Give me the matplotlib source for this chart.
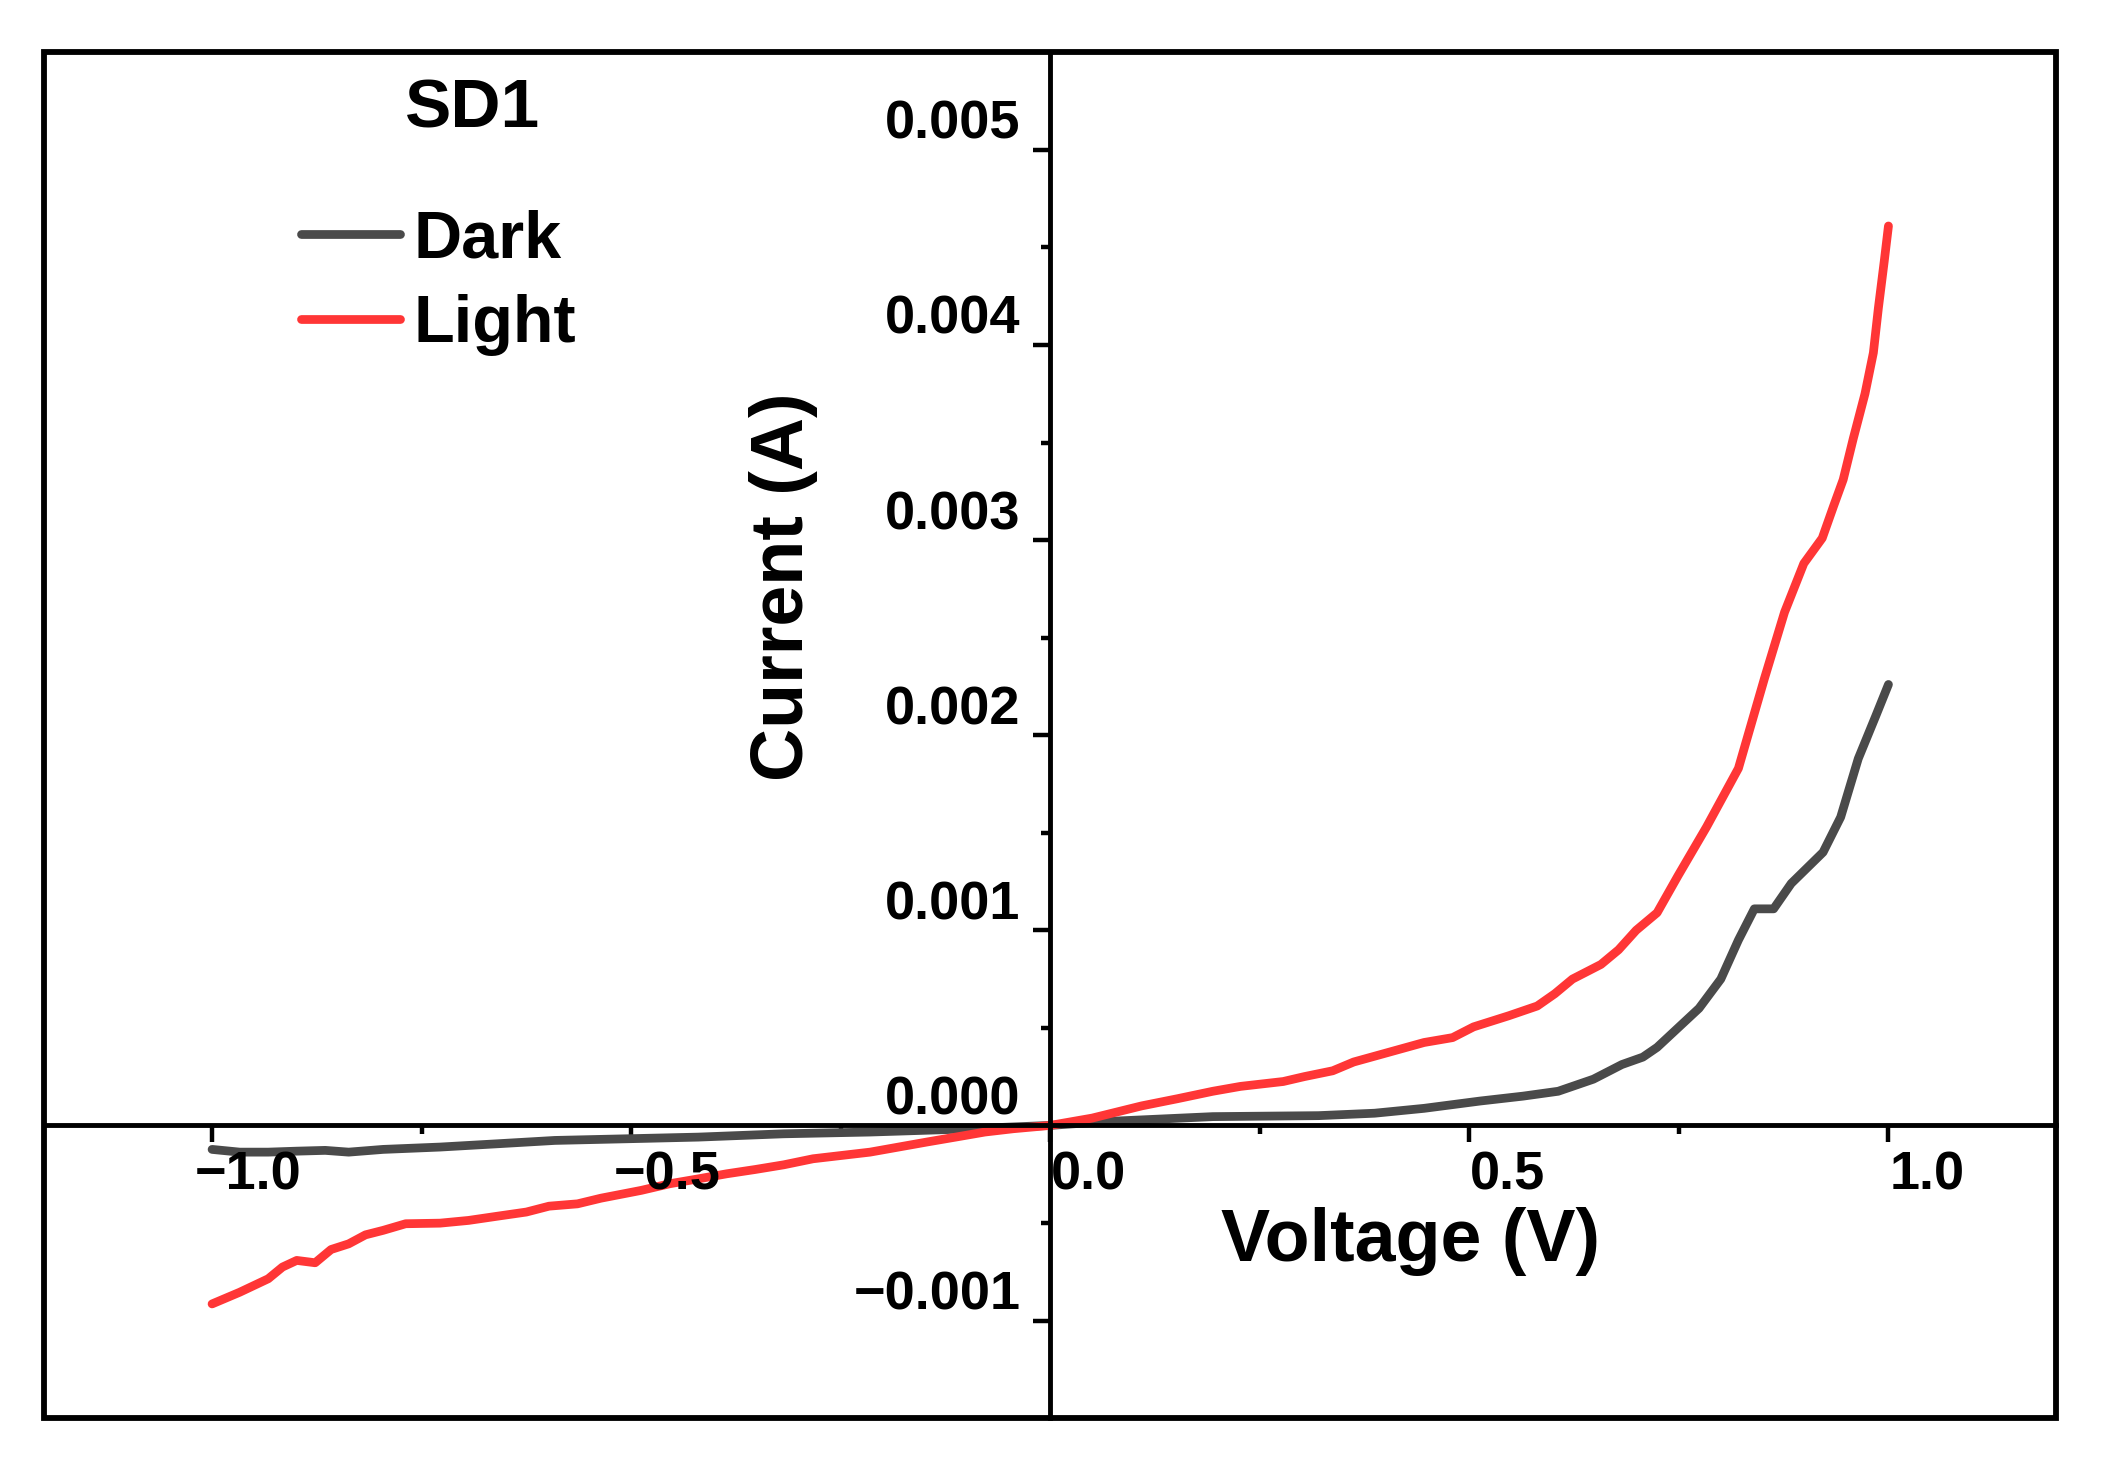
import matplotlib
matplotlib.use('Agg')
import matplotlib.pyplot as plt
from matplotlib.patches import Rectangle
from matplotlib.transforms import offset_copy

# ---------------- data ----------------
light_v = [-1.0, -0.967, -0.933, -0.916, -0.899, -0.877, -0.858, -0.837, -0.817, -0.796,
           -0.769, -0.728, -0.694, -0.659, -0.625, -0.598, -0.564, -0.536, -0.488, -0.454,
           -0.42, -0.386, -0.352, -0.318, -0.283, -0.249, -0.215, -0.181, -0.147, -0.113,
           -0.078, -0.044, 0.0,
           0.05, 0.109, 0.152, 0.194, 0.227, 0.278, 0.303, 0.337, 0.362, 0.404,
           0.446, 0.48, 0.505, 0.547, 0.581, 0.602, 0.623, 0.657, 0.678, 0.699,
           0.724, 0.749, 0.783, 0.821, 0.852, 0.876, 0.899, 0.921, 0.935, 0.946,
           0.958, 0.972, 0.982, 0.988, 0.995, 1.0]
light_i = [-0.000915, -0.000855, -0.000786, -0.000726, -0.000692, -0.000704, -0.000636, -0.000607,
           -0.000561, -0.000538, -0.000504, -0.000501, -0.000487, -0.000465, -0.000444, -0.000414,
           -0.000402, -0.000373, -0.000333, -0.000299, -0.000274, -0.000248, -0.000226, -0.000202,
           -0.000171, -0.000154, -0.000137, -0.000111, -0.000085, -0.00006, -0.000034, -0.000017, 0.0,
           0.0000375, 0.0001, 0.000137, 0.000175, 0.0002, 0.000225, 0.00025, 0.00028, 0.000325,
           0.000375, 0.000425, 0.00045, 0.000505, 0.000562, 0.000612, 0.000675, 0.00075, 0.000825,
           0.0009, 0.001, 0.00109, 0.00128, 0.00153, 0.00183, 0.00229, 0.00263, 0.00288, 0.00301,
           0.00318, 0.00331, 0.00352, 0.00375, 0.00396, 0.00419, 0.00443, 0.00461]

dark_v = [-1.0, -0.967, -0.933, -0.899, -0.865, -0.837, -0.796, -0.728, -0.659, -0.591,
          -0.5, -0.42, -0.318, -0.215, -0.113, 0.0,
          0.067, 0.194, 0.32, 0.387, 0.446, 0.513, 0.564, 0.606, 0.648, 0.682,
          0.707, 0.724, 0.749, 0.774, 0.8, 0.821, 0.84, 0.863, 0.884, 0.922,
          0.943, 0.964, 0.985, 1.0]
dark_i = [-0.000123, -0.000137, -0.000137, -0.000132, -0.000128, -0.000137, -0.000123, -0.000111,
          -0.000094, -0.000077, -0.000068, -0.00006, -0.000043, -0.000034, -0.00002, 0.0,
          0.00002, 0.000045, 0.00005, 0.0000625, 0.0000875, 0.000125, 0.00015, 0.000175,
          0.000237, 0.000312, 0.00035, 0.0004, 0.0005, 0.0006, 0.00075, 0.00095, 0.00111,
          0.00111, 0.00124, 0.0014, 0.00158, 0.00188, 0.0021, 0.00226]

x_major = [-1.0, -0.5, 0.0, 0.5, 1.0]
x_minor = [-0.75, -0.25, 0.25, 0.75]
x_labels = ['\u22121.0', '\u22120.5', '0.0', '0.5', '1.0']
y_major = [-0.001, 0.0, 0.001, 0.002, 0.003, 0.004, 0.005]
y_minor = [-0.0005, 0.0005, 0.0015, 0.0025, 0.0035, 0.0045]
y_labels = ['\u22120.001', '0.000', '0.001', '0.002', '0.003', '0.004', '0.005']

# ---------------- figure ----------------
plt.rcParams['font.family'] = ['Liberation Sans', 'DejaVu Sans']
plt.rcParams['font.weight'] = 'bold'

DPI = 100
fig = plt.figure(figsize=(21.06, 14.66), dpi=DPI)
ax = fig.add_axes([0.0211, 0.0327, 0.9552, 0.9316])

ax.plot(dark_v, dark_i, color='#4a4a4a', lw=6.3, solid_capstyle='round',
        solid_joinstyle='round', label='Dark', zorder=3)
ax.plot(light_v, light_i, color='#ff3636', lw=6.3, solid_capstyle='round',
        solid_joinstyle='round', label='Light', zorder=3)

ax.set_xlim(-1.2, 1.2)
ax.set_ylim(-0.0015, 0.0055)

ax.spines['left'].set_position('zero')
ax.spines['bottom'].set_position('zero')
ax.spines['top'].set_visible(False)
ax.spines['right'].set_visible(False)
for s in ['left', 'bottom']:
    ax.spines[s].set_linewidth(3.5)
    ax.spines[s].set_zorder(4)

ax.add_patch(Rectangle((0, 0), 1, 1, transform=ax.transAxes, fill=False,
                       lw=4.2, edgecolor='black', clip_on=False, zorder=5))

ax.set_xticks(x_major)
ax.set_xticks(x_minor, minor=True)
ax.set_yticks(y_major)
ax.set_yticks(y_minor, minor=True)
ax.tick_params(which='major', direction='out', length=12, width=3.2)
ax.tick_params(which='minor', direction='out', length=6.5, width=3.2)
ax.tick_params(labelbottom=False, labelleft=False)

px = 72.0 / DPI  # points per pixel
TICKFS = 39
for v, lab in zip(x_major, x_labels):
    dx = -17 if v < 0 else 1
    tr = offset_copy(ax.transData, fig=fig, x=dx * px, y=-64 * px, units='points')
    ax.text(v, 0, lab, transform=tr, ha='left', va='baseline', fontsize=TICKFS,
            fontweight='bold', zorder=6)
for v, lab in zip(y_major, y_labels):
    tr = offset_copy(ax.transData, fig=fig, x=-30 * px, y=11 * px, units='points')
    ax.text(0, v, lab, transform=tr, ha='right', va='baseline', fontsize=TICKFS,
            fontweight='bold', zorder=6)

ax.text(0.679, 0.1296, 'Voltage (V)', transform=ax.transAxes, ha='center',
        va='center', fontsize=53, fontweight='bold')
ax.text(0.3675, 0.6085, 'Current (A)', transform=ax.transAxes, ha='center',
        va='center', rotation=90, fontsize=53, fontweight='bold')
ax.text(0.2126, 0.9578, 'SD1', transform=ax.transAxes, ha='center',
        va='center', fontsize=50, fontweight='bold')

leg = ax.legend(loc='upper left', bbox_to_anchor=(0.1276, 0.885), frameon=False,
                borderpad=0, borderaxespad=0, handlelength=1.48, handletextpad=0.2,
                labelspacing=0.34, prop={'size': 48, 'weight': 'bold'})
leg.set_zorder(7)

fig.savefig('out.png', dpi=DPI)
